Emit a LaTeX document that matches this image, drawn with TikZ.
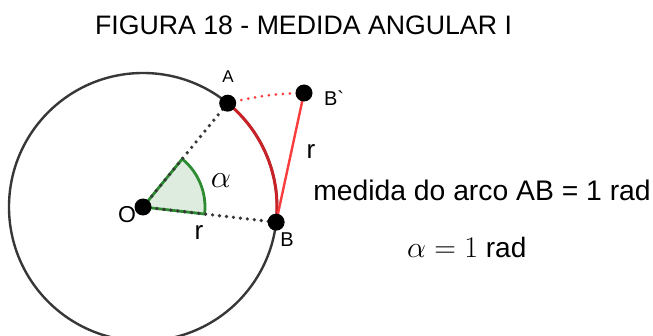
\RequirePackage{fix-cm}
\documentclass[tikz,border=0pt]{standalone}
\usepackage[no-math]{fontspec}
\setmainfont{Liberation Sans}
\usepackage{amsmath}
\usetikzlibrary{positioning, calc}
\definecolor{circgray}{RGB}{55, 55, 55}
\definecolor{arcred}{RGB}{200, 35, 40}
\definecolor{segred}{RGB}{250, 60, 60}
\definecolor{anggreen}{RGB}{45, 140, 50}
\definecolor{angfill}{RGB}{222, 236, 224}

\begin{document}
\begin{tikzpicture}[x=1pt, y=1pt,
  dot/.style={circle, fill=black, inner sep=0pt, minimum size=17pt},
  lbl/.style={inner sep=0pt, font=\fontsize{20}{22}\selectfont},
  dotline/.style={dash pattern=on 0pt off 7pt, line cap=round, line width=3.6pt}]
  \clip (0,0) rectangle (653,335);
  \node[font=\fontsize{26.7}{30}\selectfont] (title) at (303.5,309.5) {FIGURA 18 - MEDIDA ANGULAR I};
  % points of the figure
  \coordinate (o) at (143,128);
  \coordinate (a) at ($(o)+(50.8:134)$);
  \coordinate (b) at ($(o)+(-6.5:134)$);
  \coordinate (bp) at (304,242);
  \draw[circgray, line width=2.4pt] (o) circle[radius=134];
  % angle alpha
  \draw[anggreen, line width=2.8pt, fill=angfill] (o) -- ($(o)+(-6.5:62)$) arc[start angle=-6.5, end angle=50.8, radius=62] -- cycle;
  \draw[dotline, circgray] (o) -- (a);
  \draw[dotline, circgray] (o) -- (b);
  \draw[arcred, line width=3pt] (a) arc[start angle=50.8, end angle=-6.5, radius=134];
  \draw[segred, line width=2.4pt] (b) -- (bp);
  \draw[segred, dotline, line width=3pt] (a) to[bend left=6] (bp);
  \node[dot] (O) at (o) {};
  \node[dot] (A) at (a) {};
  \node[dot] (B) at (b) {};
  \node[dot] (Bp) at (bp) {};
  % labels
  \node[lbl, font=\fontsize{17}{19}\selectfont] (labA) at (228,258) {A};
  \node[lbl] (labBp) at (334,237) {B\textasciigrave};
  \node[lbl] (labB) at (287,95) {B};
  \node[lbl, font=\fontsize{23}{26}\selectfont] (labO) at (127,120) {O};
  \node[lbl, font=\fontsize{26}{28}\selectfont] (r1) at (199,102) {r};
  \node[lbl, font=\fontsize{26}{28}\selectfont] (r2) at (311,183) {r};
  \node[lbl, font=\fontsize{32}{34}\selectfont] (alpha) at (221,154) {$\alpha$};
  \node[font=\fontsize{28.3}{31}\selectfont] (arcAB) at (482,145) {medida do arco AB = 1 rad};
  \node[inner sep=0pt, anchor=base west, font=\fontsize{28}{30}\selectfont] (rad) at (407,78)
    {{\fontsize{30}{32}\selectfont$\alpha = 1$} rad};
\end{tikzpicture}
\end{document}
